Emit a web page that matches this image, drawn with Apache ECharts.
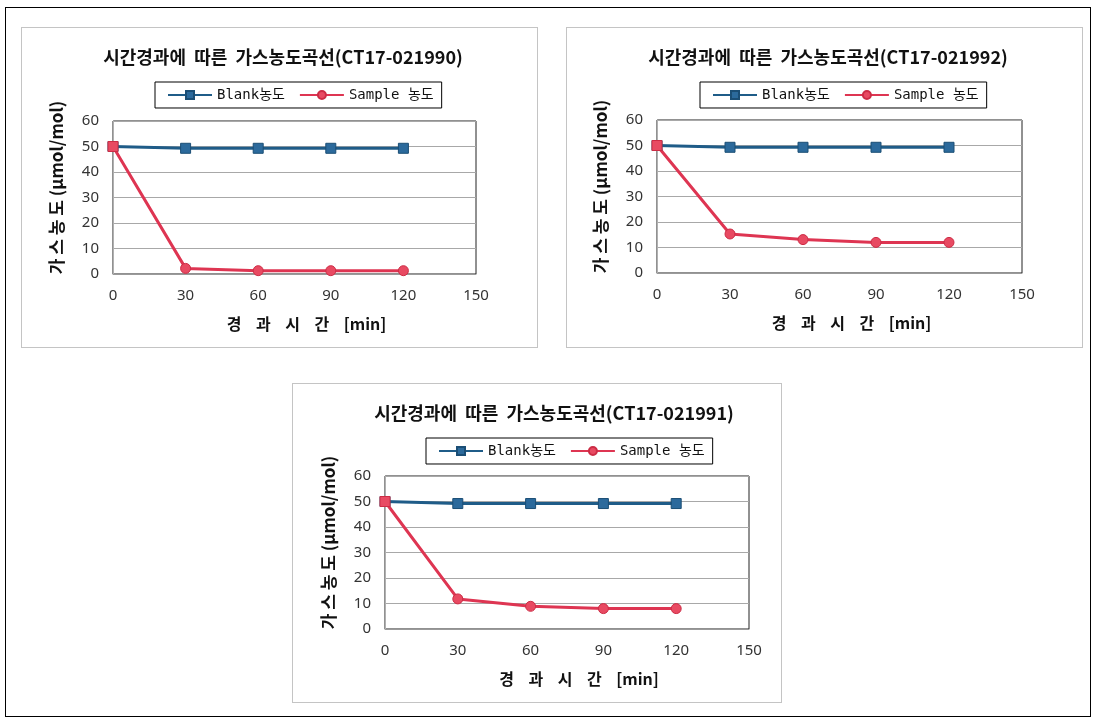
<!DOCTYPE html>
<html>
<head>
<meta charset="utf-8">
<script src="https://cdn.jsdelivr.net/npm/echarts@6/dist/echarts.min.js"></script>
<style>
    html, body { margin: 0; padding: 0; background: #fff; }
    #frame { position: absolute; left: 5px; top: 7px; width: 1086px; height: 710px; border: 1px solid #000; box-sizing: border-box; }
    .box { position: absolute; border: 1px solid #c4c4c4; box-sizing: border-box; background: #fff; }
    #c1990 { left: 21px; top: 27px; width: 517px; height: 321px; }
    #c1992 { left: 566px; top: 27px; width: 517px; height: 321px; }
    #c1991 { left: 292px; top: 383px; width: 490px; height: 320px; }
</style>
</head>
<body>
<div id="frame"></div>
<div class="box" id="c1990"></div>
<div class="box" id="c1992"></div>
<div class="box" id="c1991"></div>
<script>
// 경과시간 (min)
var times = [0, 30, 60, 90, 120];

// CT17-021990
var blank1990 = [50, 49.3, 49.3, 49.3, 49.3];
var sample1990 = [50, 2.2, 1.3, 1.3, 1.3];
// CT17-021992
var blank1992 = [50, 49.3, 49.3, 49.3, 49.3];
var sample1992 = [50, 15.3, 13.1, 12.0, 12.0];
// CT17-021991
var blank1991 = [50, 49.2, 49.2, 49.2, 49.2];
var sample1991 = [50, 11.8, 8.9, 8.0, 8.0];

var yTicks = [0, 10, 20, 30, 40, 50, 60];
var xTicks = [0, 30, 60, 90, 120, 150];

var seriesNames = ['Blank농도', 'Sample 농도'];

var toPoints = function (ys, firstSymbol) {
    return times.map(function (t, i) {
        if (i === 0 && firstSymbol) {
            return { value: [t, ys[i]], symbol: firstSymbol };
        }
        return [t, ys[i]];
    });
};

var getOption = function (title, blank, sample, grid) {
    return {
        animation: false,
        title: {
            text: title,
            left: 256,
            top: 15,
            textAlign: 'center',
            textStyle: {
                fontFamily: 'Noto Sans CJK KR',
                fontSize: 18,
                fontWeight: 'bold',
                color: '#111'
            }
        },
        legend: {
            data: seriesNames,
            left: 133,
            top: 54,
            itemWidth: 44,
            itemHeight: 10,
            itemGap: 14,
            padding: [6, 8, 6, 12],
            borderColor: '#000',
            borderWidth: 1,
            textStyle: {
                fontFamily: 'DejaVu Sans Mono, Noto Sans CJK KR',
                fontSize: 14,
                color: '#111'
            }
        },
        grid: grid,
        xAxis: {
            type: 'value',
            min: xTicks[0],
            max: xTicks[xTicks.length - 1],
            interval: 30,
            name: '경    과    시    간    [min]',
            nameLocation: 'middle',
            nameGap: 42,
            nameTextStyle: {
                fontFamily: 'Noto Sans CJK KR',
                fontSize: 16,
                fontWeight: 'bold',
                color: '#111',
                padding: [0, 0, 0, 24]
            },
            axisLine: { lineStyle: { color: '#9a9a9a', width: 1 } },
            axisTick: { show: false },
            splitLine: { show: false },
            axisLabel: {
                margin: 14,
                fontFamily: 'Noto Sans',
                fontSize: 15,
                color: '#333'
            }
        },
        yAxis: {
            type: 'value',
            min: yTicks[0],
            max: yTicks[yTicks.length - 1],
            interval: 10,
            name: '가 스 농 도 (μmol/mol)',
            nameLocation: 'middle',
            nameRotate: 90,
            nameGap: 48,
            nameTextStyle: {
                fontFamily: 'Noto Sans CJK KR',
                fontSize: 17,
                fontWeight: 'bold',
                color: '#111',
                padding: [0, 0, 0, 20]
            },
            axisLine: { show: true, lineStyle: { color: '#b0b0b0', width: 1 } },
            axisTick: { show: false },
            splitLine: { lineStyle: { color: '#a8a8a8', width: 1 } },
            axisLabel: {
                margin: 14,
                fontFamily: 'Noto Sans',
                fontSize: 15,
                color: '#333'
            }
        },
        series: [
            {
                name: seriesNames[0],
                type: 'line',
                symbol: 'rect',
                symbolSize: 10,
                lineStyle: { color: '#1f5c88', width: 3 },
                itemStyle: { color: '#2c6a9c', borderColor: '#1b4e75', borderWidth: 1 },
                data: toPoints(blank)
            },
            {
                name: seriesNames[1],
                type: 'line',
                symbol: 'circle',
                symbolSize: 10,
                lineStyle: { color: '#de3552', width: 3 },
                itemStyle: { color: '#e84a62', borderColor: '#cc2c45', borderWidth: 1 },
                data: toPoints(sample, 'rect')
            }
        ]
    };
};

var charts = [
    { id: 'c1990', title: '시간경과에  따른  가스농도곡선(CT17-021990)', blank: blank1990, sample: sample1990,
      grid: { left: 91, top: 93, right: 61, bottom: 73, show: true, borderColor: '#222', borderWidth: 1 } },
    { id: 'c1992', title: '시간경과에  따른  가스농도곡선(CT17-021992)', blank: blank1992, sample: sample1992,
      grid: { left: 90, top: 92, right: 60, bottom: 74, show: true, borderColor: '#222', borderWidth: 1 } },
    { id: 'c1991', title: '시간경과에  따른  가스농도곡선(CT17-021991)', blank: blank1991, sample: sample1991,
      grid: { left: 92, top: 92, right: 32, bottom: 73, show: true, borderColor: '#222', borderWidth: 1 } }
];

charts.forEach(function (c) {
    var myChart = echarts.init(document.getElementById(c.id));
    myChart.setOption(getOption(c.title, c.blank, c.sample, c.grid));
});
</script>
</body>
</html>
